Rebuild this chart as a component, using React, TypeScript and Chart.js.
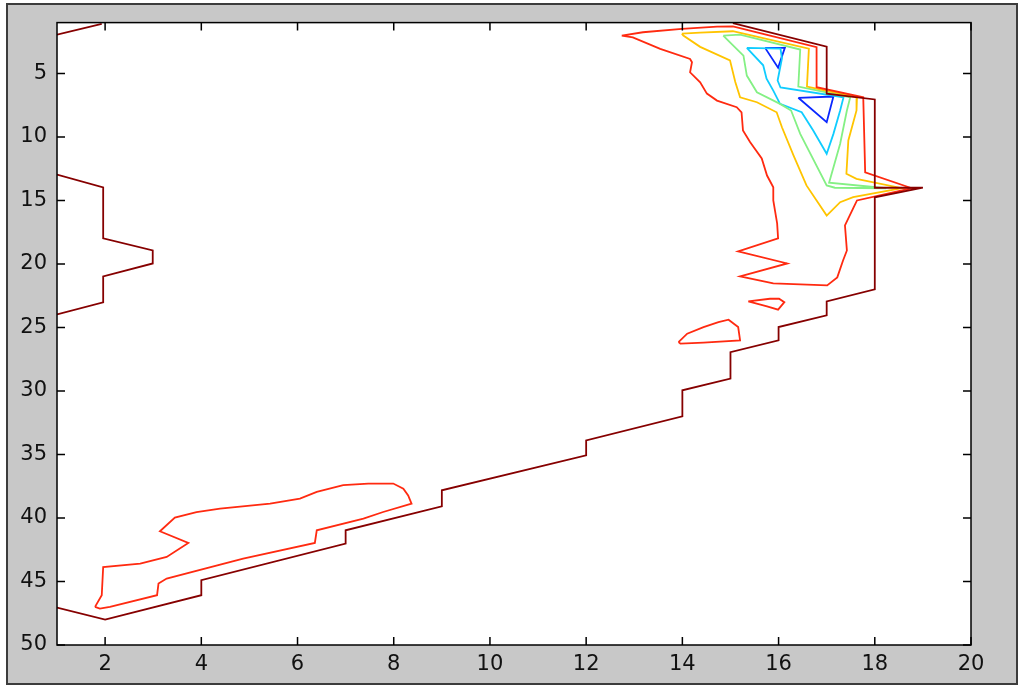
import React, { useEffect, useRef } from "react";
import { Chart, registerables } from "chart.js";

Chart.register(...registerables);

type Pt = [number, number];

// Axis ticks
const xTickValues = [2, 4, 6, 8, 10, 12, 14, 16, 18, 20];
const yTickValues = [5, 10, 15, 20, 25, 30, 35, 40, 45, 50];

// Contour level colours, outermost to innermost
const levelColors = {
  maroon: "#860000",
  red: "#ff2a10",
  yellow: "#ffc400",
  green: "#84f084",
  cyan: "#10ccff",
  blue: "#0a28ff",
};

// Lowest level: open boundary lines
const maroonMain: Pt[] = [
  [15.05, 1.05], [17, 2.9], [17, 6.6], [18, 7.05], [18, 14], [19, 14], [18, 14.75],
  [18, 22], [17, 22.95], [17, 24.05], [16, 24.97], [16, 26.02], [15, 26.94], [15, 29.03],
  [14, 29.95], [14, 32], [12, 33.9], [12, 35.07], [9, 37.82], [9, 39.08], [7, 40.97],
  [7, 42.01], [4, 44.9], [4, 46.08], [2, 48], [1, 47.05],
];
const maroonLeft: Pt[] = [
  [1, 12.96], [1.96, 13.98], [1.96, 17.99], [2.99, 18.94], [2.99, 19.96], [1.96, 20.98],
  [1.96, 23.03], [1, 23.97],
];
const maroonCorner: Pt[] = [[1, 1.95], [1.93, 1.1]];

// Second level
const redUpper: Pt[] = [
  [12.74, 2.02], [13.18, 1.76], [13.99, 1.5], [14.72, 1.31], [15.05, 1.29], [16.79, 2.94],
  [16.79, 6.09], [17.76, 6.88], [17.8, 12.78], [18.77, 14.04], [17.63, 15.0], [17.55, 15.63],
  [17.38, 16.97], [17.42, 18.94], [17.34, 19.73], [17.22, 21.06], [17.01, 21.69],
  [15.89, 21.53], [15.2, 20.98], [16.18, 19.96], [15.16, 19.02], [15.99, 17.99],
  [15.97, 16.81], [15.89, 15.0], [15.89, 13.96], [15.76, 13.04], [15.65, 11.7],
  [15.41, 10.42], [15.26, 9.5], [15.23, 8.06], [15.13, 7.66], [14.72, 7.14], [14.51, 6.59],
  [14.37, 5.7], [14.16, 4.91], [14.2, 4.12], [14.16, 3.86], [13.54, 3.07], [12.97, 2.16],
];
const redSmall: Pt[] = [
  [15.37, 22.95], [15.82, 22.74], [16.01, 22.74], [16.12, 23.01], [15.99, 23.6], [15.76, 23.34],
];
const redBlob: Pt[] = [
  [13.92, 26.15], [14.1, 25.49], [14.44, 24.97], [14.75, 24.58], [14.96, 24.39],
  [15.16, 24.97], [15.2, 26.02], [14.44, 26.2], [13.96, 26.28],
];
const redLower: Pt[] = [
  [1.79, 47.0], [1.93, 46.08], [1.96, 43.86], [2.73, 43.59], [3.28, 43.07], [3.73, 41.97],
  [3.14, 41.05], [3.45, 39.97], [3.9, 39.53], [4.39, 39.26], [5.43, 38.87], [6.05, 38.47],
  [6.4, 37.95], [6.95, 37.42], [7.47, 37.29], [7.99, 37.29], [8.2, 37.69], [8.3, 38.22],
  [8.37, 38.87], [7.78, 39.53], [7.37, 40.05], [6.4, 40.97], [6.36, 41.97], [4.87, 43.2],
  [3.28, 44.77], [3.11, 45.16], [3.08, 46.08], [2.1, 47.0], [1.89, 47.13],
];

// Third level
const yellowLoop: Pt[] = [
  [13.99, 1.87], [14.37, 1.79], [15.05, 1.68], [16.63, 3.05], [16.59, 6.04], [17.63, 6.88],
  [17.62, 7.92], [17.45, 10.28], [17.41, 12.9], [17.62, 13.3], [18.56, 14.04], [17.55, 14.74],
  [17.28, 15.14], [17.0, 16.19], [16.58, 13.82], [16.31, 11.46], [16.07, 9.24], [15.96, 8.06],
  [15.55, 7.27], [15.2, 6.88], [15.1, 5.67], [14.99, 3.97], [14.37, 2.91], [14.02, 2.02],
];

// Fourth level
const greenLoop: Pt[] = [
  [14.85, 2.02], [15.2, 1.94], [16.45, 3.12], [16.41, 6.04], [17.49, 6.88], [17.42, 7.92],
  [17.28, 10.54], [17.05, 13.6], [18.24, 14.04], [17.17, 14.0], [17.0, 13.82], [16.45, 9.76],
  [16.26, 7.92], [16.03, 7.4], [15.55, 6.48], [15.34, 5.17], [15.27, 3.6], [14.99, 2.55],
];

// Fifth level
const cyanLoop: Pt[] = [
  [15.34, 2.99], [16.04, 3.05], [16.07, 3.83], [15.98, 5.56], [16.04, 6.11], [17.35, 6.88],
  [17.28, 7.92], [17.14, 9.76], [17.0, 11.33], [16.72, 9.5], [16.48, 8.06], [16.03, 7.4],
  [15.89, 6.35], [15.75, 5.41], [15.68, 4.36],
];

// Peaks
const blueUpper: Pt[] = [[15.72, 2.99], [16.13, 2.99], [15.99, 4.55]];
const blueLower: Pt[] = [[16.41, 6.92], [17.14, 6.82], [17.0, 8.84]];

const closed = (pts: Pt[]): Pt[] => [...pts, pts[0]];

const contours: { pts: Pt[]; color: string }[] = [
  { pts: maroonMain, color: levelColors.maroon },
  { pts: maroonLeft, color: levelColors.maroon },
  { pts: maroonCorner, color: levelColors.maroon },
  { pts: closed(redUpper), color: levelColors.red },
  { pts: closed(redSmall), color: levelColors.red },
  { pts: closed(redBlob), color: levelColors.red },
  { pts: closed(redLower), color: levelColors.red },
  { pts: closed(yellowLoop), color: levelColors.yellow },
  { pts: closed(greenLoop), color: levelColors.green },
  { pts: closed(cyanLoop), color: levelColors.cyan },
  { pts: closed(blueUpper), color: levelColors.blue },
  { pts: closed(blueLower), color: levelColors.blue },
];

const FONT = '"DejaVu Sans", Verdana, sans-serif';

// White axes background, box outline and inward ticks on all four sides
const axesBox = {
  id: "axesBox",
  beforeDraw(chart: any) {
    const { ctx, chartArea: a } = chart;
    ctx.save();
    ctx.fillStyle = "#ffffff";
    ctx.fillRect(a.left, a.top, a.right - a.left, a.bottom - a.top);
    ctx.restore();
  },
  afterDraw(chart: any) {
    const { ctx, chartArea: a, scales } = chart;
    const L = 8;
    ctx.save();
    ctx.strokeStyle = "#000000";
    ctx.lineWidth = 1.5;
    ctx.strokeRect(a.left, a.top, a.right - a.left, a.bottom - a.top);
    ctx.beginPath();
    for (const v of xTickValues) {
      const px = scales.x.getPixelForValue(v);
      ctx.moveTo(px, a.bottom);
      ctx.lineTo(px, a.bottom - L);
      ctx.moveTo(px, a.top);
      ctx.lineTo(px, a.top + L);
    }
    for (const v of yTickValues) {
      const py = scales.y.getPixelForValue(v);
      ctx.moveTo(a.left, py);
      ctx.lineTo(a.left + L, py);
      ctx.moveTo(a.right, py);
      ctx.lineTo(a.right - L, py);
    }
    ctx.stroke();
    ctx.restore();
  },
};

export default function App() {
  const canvasRef = useRef<HTMLCanvasElement | null>(null);

  useEffect(() => {
    const canvas = canvasRef.current;
    if (!canvas) return;
    const chart = new Chart(canvas, {
      type: "scatter",
      data: {
        datasets: contours.map((c) => ({
          data: c.pts.map(([x, y]) => ({ x, y })),
          showLine: true,
          borderColor: c.color,
          backgroundColor: c.color,
          borderWidth: 1.8,
          pointRadius: 0,
          fill: false,
          tension: 0,
        })),
      },
      options: {
        animation: false,
        responsive: false,
        events: [],
        layout: { padding: { top: 22, right: 51, left: 0, bottom: 0 } },
        plugins: { legend: { display: false }, tooltip: { enabled: false } },
        scales: {
          x: {
            type: "linear",
            min: 1,
            max: 20,
            grid: { display: false, drawTicks: false },
            border: { display: false },
            ticks: {
              color: "#111",
              font: { family: FONT, size: 21 },
              padding: 7,
              maxRotation: 0,
              autoSkip: false,
            },
            afterBuildTicks: (s: any) => {
              s.ticks = xTickValues.map((v) => ({ value: v }));
            },
            afterFit: (s: any) => {
              s.height = 42;
            },
          },
          y: {
            type: "linear",
            min: 1,
            max: 50,
            reverse: true,
            grid: { display: false, drawTicks: false },
            border: { display: false },
            ticks: {
              color: "#111",
              font: { family: FONT, size: 21 },
              padding: 10,
              autoSkip: false,
            },
            afterBuildTicks: (s: any) => {
              s.ticks = yTickValues.map((v) => ({ value: v }));
            },
            afterFit: (s: any) => {
              s.width = 57;
            },
          },
        },
      },
      plugins: [axesBox],
    });
    return () => chart.destroy();
  }, []);

  return (
    <div
      style={{
        position: "fixed",
        left: 0,
        top: 0,
        width: 1022,
        height: 687,
        background: "#ffffff",
        overflow: "hidden",
      }}
    >
      <div
        style={{
          position: "absolute",
          left: 6,
          top: 3,
          width: 1012,
          height: 682,
          boxSizing: "border-box",
          border: "2px solid #3c3c3c",
          background: "#c8c8c8",
        }}
      />
      <canvas
        ref={canvasRef}
        width={1022}
        height={687}
        style={{ position: "absolute", left: 0, top: 0 }}
      />
    </div>
  );
}
